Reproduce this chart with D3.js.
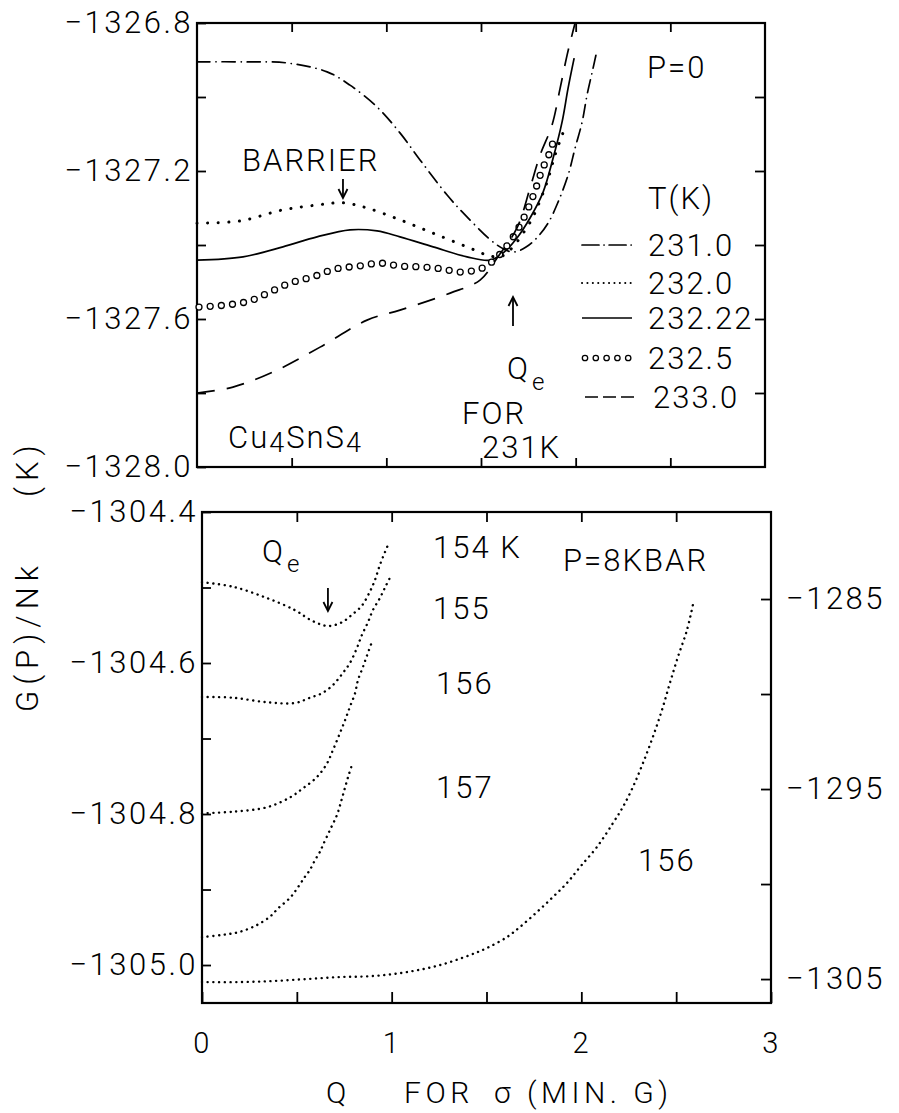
<!DOCTYPE html>
<html>
<head>
<meta charset="utf-8">
<script src="https://cdn.jsdelivr.net/npm/d3@7"></script>
<style>
  html, body { margin: 0; padding: 0; background: #fff; }
  svg text { font-family: Roboto, "Open Sans", "Liberation Sans", sans-serif; font-weight: 300; fill: #000; }
  .lbl { font-size: 31px; letter-spacing: 2px; }
  .tick text { font-size: 31px; letter-spacing: 2.5px; }
  .xt text { font-size: 29px; }
  .ytitle { font-size: 31px; letter-spacing: 6px; }
  .xtitle { font-size: 30px; letter-spacing: 4.5px; }
</style>
</head>
<body>
<svg id="chart" width="899" height="1113"></svg>
<script>
// G(P)/Nk versus order parameter Q for Cu4SnS4.
// Upper panel: P = 0, five temperatures. Lower panel: P = 8 kbar.

// ---- upper panel series: [Q, G/Nk] ----
const legendTemps = ["231.0", "232.0", "232.22", "232.5", "233.0"];

const t2310 = [[0,-1326.905],[0.25,-1326.905],[0.475,-1326.908],[0.687,-1326.932],[0.808,-1326.968],
  [0.951,-1327.027],[1.072,-1327.097],[1.178,-1327.170],[1.321,-1327.265],[1.426,-1327.324],
  [1.585,-1327.400],[1.669,-1327.419],[1.74,-1327.405],[1.796,-1327.380],[1.854,-1327.341],
  [1.907,-1327.284],[1.960,-1327.211],[1.997,-1327.138],[2.034,-1327.068],[2.060,-1326.995],
  [2.092,-1326.922],[2.113,-1326.873]];

const t2320 = [[0,-1327.341],[0.227,-1327.335],[0.454,-1327.305],[0.634,-1327.292],[0.771,-1327.286],
  [0.898,-1327.300],[1.072,-1327.332],[1.247,-1327.368],[1.426,-1327.405],[1.532,-1327.427],
  [1.60,-1327.432],[1.66,-1327.410],[1.72,-1327.370],[1.769,-1327.330],[1.796,-1327.300],
  [1.849,-1327.230],[1.891,-1327.157],[1.933,-1327.097]];

const t23222 = [[0,-1327.441],[0.243,-1327.432],[0.454,-1327.405],[0.634,-1327.378],[0.808,-1327.359],
  [0.951,-1327.362],[1.072,-1327.378],[1.247,-1327.405],[1.426,-1327.432],[1.548,-1327.441],
  [1.616,-1327.422],[1.690,-1327.381],[1.759,-1327.327],[1.828,-1327.257],[1.881,-1327.165],
  [1.928,-1327.068],[1.960,-1326.976],[1.992,-1326.895]];

const t2325 = [[0,-1327.568],[0.158,-1327.562],[0.280,-1327.551],[0.386,-1327.527],[0.491,-1327.503],
  [0.613,-1327.486],[0.729,-1327.465],[0.851,-1327.457],[0.967,-1327.449],[1.072,-1327.457],
  [1.178,-1327.459],[1.300,-1327.465],[1.379,-1327.473],[1.453,-1327.470],[1.521,-1327.459],
  [1.60,-1327.425],[1.68,-1327.370],[1.75,-1327.300],[1.801,-1327.230],[1.822,-1327.197],
  [1.854,-1327.162],[1.881,-1327.122]];

const t2330 = [[0,-1327.800],[0.190,-1327.784],[0.423,-1327.738],[0.650,-1327.676],[0.898,-1327.603],
  [1.072,-1327.576],[1.337,-1327.530],[1.495,-1327.495],[1.585,-1327.435],[1.690,-1327.354],
  [1.759,-1327.246],[1.812,-1327.157],[1.875,-1327.076],[1.918,-1326.976],[1.955,-1326.886],
  [1.981,-1326.832],[1.997,-1326.800]];

// ---- lower panel series (left scale): [Q, G/Nk] ----
const k154 = [[0,-1304.493],[0.163,-1304.499],[0.343,-1304.514],[0.490,-1304.530],[0.580,-1304.544],
  [0.664,-1304.551],[0.738,-1304.546],[0.791,-1304.536],[0.843,-1304.524],[0.886,-1304.505],
  [0.912,-1304.490],[0.938,-1304.470],[0.965,-1304.453],[0.980,-1304.444]];

const k155 = [[0,-1304.645],[0.163,-1304.646],[0.343,-1304.652],[0.490,-1304.653],[0.569,-1304.646],
  [0.633,-1304.640],[0.691,-1304.629],[0.743,-1304.613],[0.780,-1304.600],[0.817,-1304.580],
  [0.843,-1304.563],[0.875,-1304.546],[0.901,-1304.530],[0.938,-1304.514],[0.965,-1304.500],
  [0.991,-1304.487]];

const k156 = [[0,-1304.799],[0.163,-1304.797],[0.343,-1304.791],[0.464,-1304.778],[0.532,-1304.766],
  [0.606,-1304.751],[0.659,-1304.733],[0.691,-1304.715],[0.727,-1304.693],[0.754,-1304.676],
  [0.780,-1304.658],[0.807,-1304.640],[0.822,-1304.623],[0.849,-1304.605],[0.870,-1304.590],
  [0.896,-1304.572]];

const k157 = [[0,-1304.963],[0.111,-1304.960],[0.200,-1304.956],[0.290,-1304.947],[0.358,-1304.936],
  [0.401,-1304.925],[0.464,-1304.911],[0.506,-1304.897],[0.543,-1304.883],[0.569,-1304.874],
  [0.596,-1304.861],[0.622,-1304.850],[0.638,-1304.841],[0.675,-1304.821],[0.712,-1304.801],
  [0.735,-1304.782],[0.754,-1304.765],[0.775,-1304.747],[0.796,-1304.731]];

// ---- lower panel, 156 K on the right-hand scale ----
const k156wideQ = [0,0.200,0.374,0.553,0.727,0.901,1.081,1.255,1.413,1.502,1.608,1.676,1.766,1.850,
  1.924,1.993,2.082,2.167,2.219,2.272,2.325,2.377,2.425,2.467,2.509,2.557,2.588];
const k156wideG = [-1305.158,-1305.158,-1305.105,-1305.0,-1304.895,-1304.842,-1304.632,-1304.263,
  -1303.737,-1303.368,-1302.789,-1302.263,-1301.474,-1300.684,-1299.947,-1299.105,-1298.053,
  -1296.789,-1295.947,-1294.895,-1293.632,-1292.263,-1290.842,-1289.421,-1288.053,-1286.632,-1285.316];

// ---- tick values ----
const xTickVals = [0, 0.5, 1, 1.5, 2, 2.5, 3];
const xTickLabels = ["0", "1", "2", "3"];
const yTopTicks = [-1326.8, -1327.0, -1327.2, -1327.4, -1327.6, -1327.8, -1328.0];
const yTopLabels = ["-1326.8", "-1327.2", "-1327.6", "-1328.0"];
const yBotTicks = [-1304.4, -1304.5, -1304.6, -1304.7, -1304.8, -1304.9, -1305.0];
const yBotLabels = ["-1304.4", "-1304.6", "-1304.8", "-1305.0"];
const yRightTicks = [-1285, -1290, -1295, -1300, -1305];
const yRightLabels = ["-1285", "-1295", "-1305"];

// ------------------------------------------------------------------
const svg = d3.select("#chart");
const pTop = { l: 197, r: 765, t: 23, b: 467 };
const pBot = { l: 202, r: 771, t: 512, b: 1003 };

const xTop = d3.scaleLinear().domain([0, 3]).range([pTop.l, pTop.r]);
const yTop = d3.scaleLinear().domain([-1326.8, -1328.0]).range([pTop.t, pTop.b]);
const xBot = d3.scaleLinear().domain([0, 3]).range([pBot.l, pBot.r]);
const yBot = d3.scaleLinear().domain([-1304.4, -1305.0503]).range([pBot.t, pBot.b]);
const yBotR = d3.scaleLinear().domain([-1280.42, -1306.26]).range([pBot.t, pBot.b]);

const minusFmt = s => s.replace("-", "\u2212");
const keyOf = v => v.toFixed(1);

function strip(g) { g.select(".domain").remove(); g.selectAll("line").attr("stroke", "#000").attr("stroke-width", 1.8); }

// ---- upper panel axes ----
svg.append("g").attr("transform", `translate(${pTop.l},0)`)
  .call(d3.axisLeft(yTop).tickValues(yTopTicks).tickSizeInner(-9).tickSizeOuter(0).tickPadding(4)
    .tickFormat(v => yTopLabels.includes(keyOf(v)) ? minusFmt(keyOf(v)) : ""))
  .call(strip);
svg.append("g").attr("transform", `translate(${pTop.r},0)`)
  .call(d3.axisRight(yTop).tickValues(yTopTicks.slice(1, -1)).tickSizeInner(-10).tickSizeOuter(0).tickFormat(""))
  .call(strip);
svg.append("g").attr("transform", `translate(0,${pTop.t})`)
  .call(d3.axisTop(xTop).tickValues(xTickVals.slice(1, -1)).tickSizeInner(-9).tickSizeOuter(0).tickFormat(""))
  .call(strip);
svg.append("g").attr("transform", `translate(0,${pTop.b})`)
  .call(d3.axisBottom(xTop).tickValues(xTickVals.slice(1, -1)).tickSizeInner(-9).tickSizeOuter(0).tickFormat(""))
  .call(strip);

// ---- lower panel axes ----
svg.append("g").attr("transform", `translate(${pBot.l},0)`)
  .call(d3.axisLeft(yBot).tickValues(yBotTicks).tickSizeInner(-9).tickSizeOuter(0).tickPadding(4)
    .tickFormat(v => yBotLabels.includes(keyOf(v)) ? minusFmt(keyOf(v)) : ""))
  .call(strip);
svg.append("g").attr("transform", `translate(${pBot.r},0)`)
  .call(d3.axisRight(yBotR).tickValues(yRightTicks).tickSizeInner(-10).tickSizeOuter(0).tickPadding(15)
    .tickFormat(v => yRightLabels.includes(String(v)) ? minusFmt(String(v)) : ""))
  .call(strip);
svg.append("g").attr("transform", `translate(0,${pBot.t})`)
  .call(d3.axisTop(xBot).tickValues(xTickVals.slice(1, -1)).tickSizeInner(-10).tickSizeOuter(0).tickFormat(""))
  .call(strip);
svg.append("g").attr("class", "xt").attr("transform", `translate(0,${pBot.b})`)
  .call(d3.axisBottom(xBot).tickValues(xTickVals).tickSizeInner(-11).tickSizeOuter(0).tickPadding(29)
    .tickFormat(v => xTickLabels.includes(String(v)) ? String(v) : ""))
  .call(strip);

// frames
[pTop, pBot].forEach(p => {
  svg.append("rect").attr("x", p.l).attr("y", p.t).attr("width", p.r - p.l).attr("height", p.b - p.t)
    .attr("fill", "none").attr("stroke", "#000").attr("stroke-width", 2.2);
});

// ---- line styles ----
const styles = {
  "231.0":  { dash: "13 6 0.1 6", cap: "round", w: 1.7 },
  "232.0":  { dash: "0.1 10.5", cap: "round", w: 3.0 },
  "232.22": { dash: null, cap: "butt", w: 1.7 },
  "232.5":  { circles: true },
  "233.0":  { dash: "18 12", cap: "butt", w: 1.7 }
};
const fine = { dash: "0.1 5.6", cap: "round", w: 2.4 };

function drawLine(data, x, y, st, xa, ya) {
  const gen = d3.line().x(d => x(xa(d))).y(d => y(ya(d))).curve(d3.curveCatmullRom.alpha(0.5));
  const p = svg.append("path").attr("d", gen(data)).attr("fill", "none");
  if (st.circles) {
    p.attr("stroke", "none");
    const node = p.node(), len = node.getTotalLength();
    for (let s = 2; s <= len; s += 11.2) {
      const pt = node.getPointAtLength(s);
      svg.append("circle").attr("cx", pt.x).attr("cy", pt.y).attr("r", 3)
        .attr("fill", "#fff").attr("stroke", "#000").attr("stroke-width", 1.3);
    }
  } else {
    p.attr("stroke", "#000").attr("stroke-width", st.w).attr("stroke-linecap", st.cap);
    if (st.dash) p.attr("stroke-dasharray", st.dash);
  }
}
const fst = d => d[0], snd = d => d[1];

// upper panel curves
const topSeries = { "231.0": t2310, "232.0": t2320, "232.22": t23222, "232.5": t2325, "233.0": t2330 };
legendTemps.forEach(t => drawLine(topSeries[t], xTop, yTop, styles[t], fst, snd));

// lower panel curves
[k154, k155, k156, k157].forEach(s => drawLine(s, xBot, yBot, fine, fst, snd));
drawLine(d3.range(k156wideQ.length), xBot, yBotR, fine, i => k156wideQ[i], i => k156wideG[i]);

// ---- legend ----
const legRows = [245, 283, 318, 358, 397];
legendTemps.forEach((t, i) => {
  const y = legRows[i];
  const st = styles[t];
  if (st.circles) {
    for (let k = 0; k < 5; k++) {
      svg.append("circle").attr("cx", 585 + k * 10.8).attr("cy", y).attr("r", 2.7)
        .attr("fill", "#fff").attr("stroke", "#000").attr("stroke-width", 1.3);
    }
  } else {
    const ln = svg.append("line").attr("x1", 582).attr("x2", 632).attr("y1", y).attr("y2", y)
      .attr("stroke", "#000").attr("stroke-width", t === "232.0" ? 2 : 1.7).attr("stroke-linecap", st.cap);
    if (t === "231.0") ln.attr("stroke-dasharray", "17 5 0.1 5");
    if (t === "232.0") ln.attr("stroke-dasharray", "0.1 5.3");
    if (t === "233.0") ln.attr("x1", 585).attr("x2", 634).attr("stroke-dasharray", "13 5");
  }
  svg.append("text").attr("class", "lbl").attr("x", 648 + (t === "233.0" ? 5 : 0)).attr("y", y + 11).text(t);
});

// ---- annotations ----
function label(x, y, txt, anchor) {
  return svg.append("text").attr("class", "lbl").attr("x", x).attr("y", y)
    .attr("text-anchor", anchor || "start").text(txt);
}
function arrow(x, y1, y2) {
  // shaft from y1 to head at y2
  const dir = y2 > y1 ? 1 : -1;
  svg.append("line").attr("x1", x).attr("x2", x).attr("y1", y1).attr("y2", y2)
    .attr("stroke", "#000").attr("stroke-width", 1.8);
  svg.append("path").attr("d", `M${x - 4.5},${y2 - dir * 9} L${x},${y2} L${x + 4.5},${y2 - dir * 9}`)
    .attr("fill", "none").attr("stroke", "#000").attr("stroke-width", 1.8);
}

label(647, 78, "P=0").attr("letter-spacing", "6px");
label(242, 171, "BARRIER");
arrow(xTop(0.771), 179, 198);
label(648, 209, "T(K)").attr("letter-spacing", "7px");
arrow(xTop(1.669), 326, 297);
const qe1 = label(507, 379, "Q");
qe1.append("tspan").attr("dx", 2).attr("dy", 11).attr("font-size", "24px").text("e");
label(462, 424, "FOR");
label(482, 458, "231K");
const cu = label(228, 448, "Cu");
cu.append("tspan").attr("dy", 4).attr("font-size", "27px").text("4");
cu.append("tspan").attr("dy", -4).text("SnS");
cu.append("tspan").attr("dy", 4).attr("font-size", "27px").text("4");

const qe2 = label(262, 562, "Q");
qe2.append("tspan").attr("dx", 2).attr("dy", 10).attr("font-size", "24px").text("e");
arrow(xBot(0.664), 588, 611);
label(433, 558, "154 K");
label(433, 619, "155");
label(436, 694, "156");
label(436, 798, "157");
label(563, 571, "P=8KBAR").attr("letter-spacing", "2.5px");
label(638, 871, "156");

// axis titles
const xt = svg.append("text").attr("class", "xtitle").attr("y", 1103);
xt.append("tspan").attr("x", 326).text("Q");
xt.append("tspan").attr("x", 404).text("FOR");
xt.append("tspan").attr("x", 494).text("\u03c3 (MIN. G)");

svg.append("text").attr("class", "ytitle").attr("transform", "translate(38,712) rotate(-90)").text("G(P)/Nk");
svg.append("text").attr("class", "ytitle").attr("transform", "translate(38,497) rotate(-90)").text("(K)");
</script>
</body>
</html>
